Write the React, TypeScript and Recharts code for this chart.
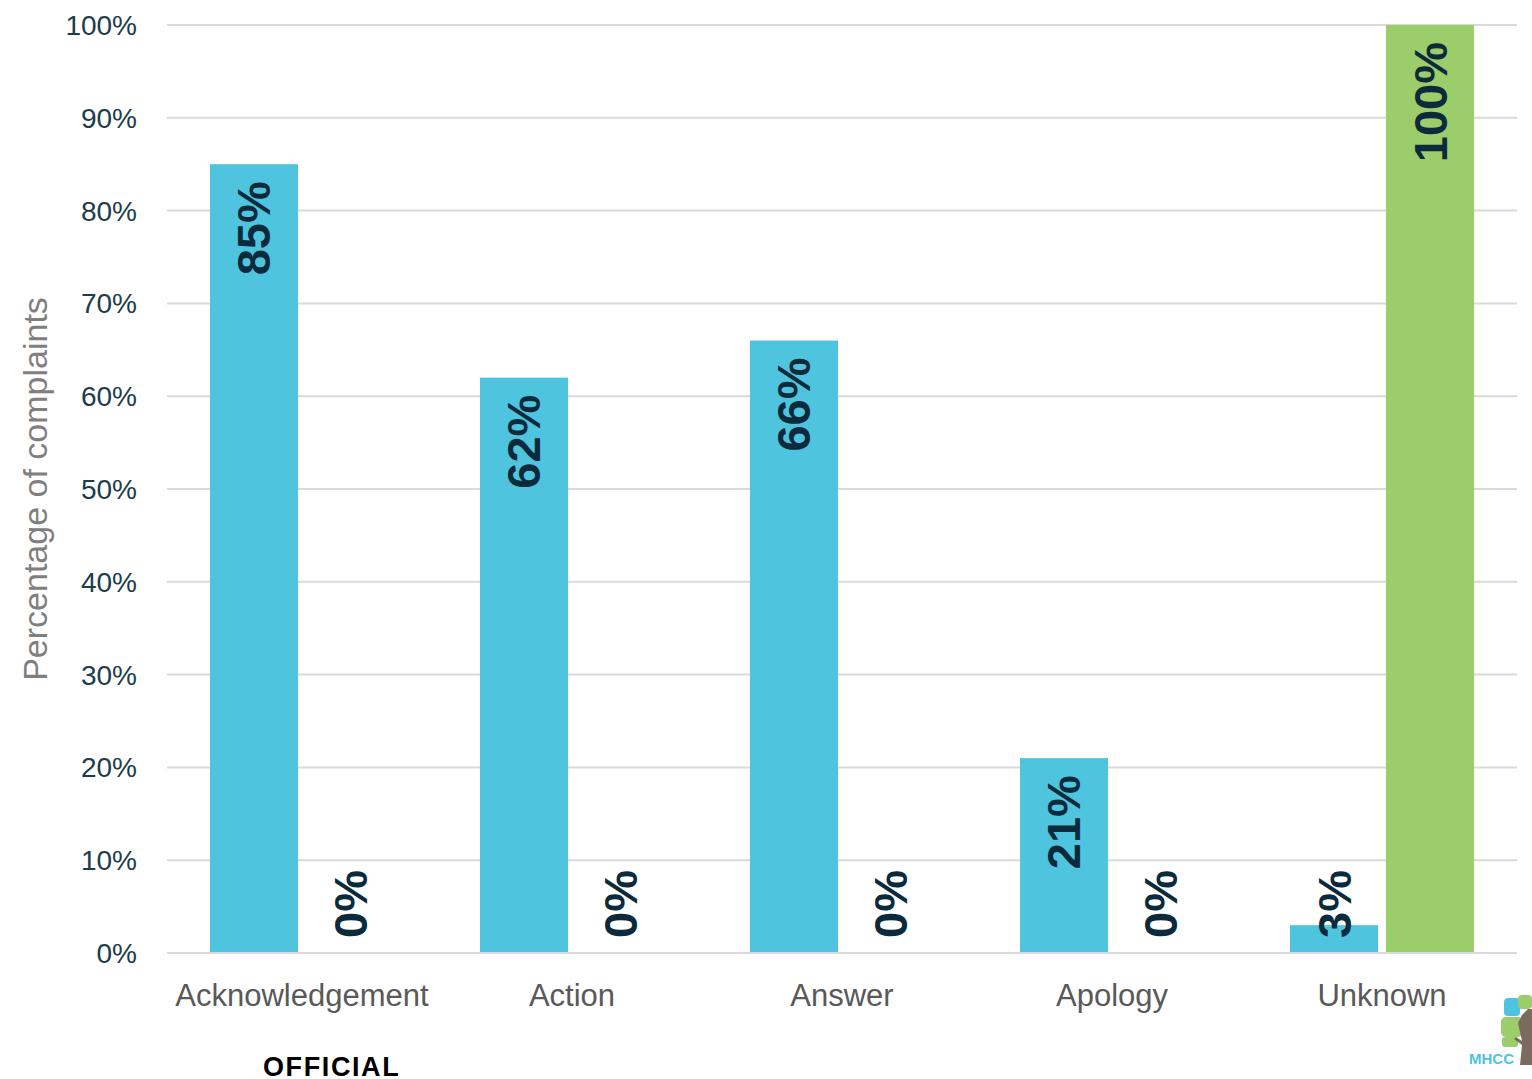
import React from "react";
import { BarChart, Bar, XAxis, YAxis, CartesianGrid, LabelList } from "recharts";

const categories = ["Acknowledgement", "Action", "Answer", "Apology", "Unknown"];
const knownValues = [85, 62, 66, 21, 3];
const unknownValues = [0, 0, 0, 0, 100];
const yTicks = [0, 10, 20, 30, 40, 50, 60, 70, 80, 90, 100];

const data = categories.map((name, i) => ({
  name,
  known: knownValues[i],
  unknown: unknownValues[i],
}));

const FONT = "'Liberation Sans', Arial, sans-serif";
const BASE_Y = 953;

// rotated label: hangs from the top of the bar, or sits on the baseline when the bar is short
const barLabel = (props: any) => {
  const { x, y, width, height, value } = props;
  const cx = x + width / 2;
  const short = height < 110;
  const ay = short ? BASE_Y - 15 : y + 17;
  return (
    <text
      x={cx}
      y={ay}
      transform={`rotate(-90 ${cx} ${ay})`}
      textAnchor={short ? "start" : "end"}
      dominantBaseline="central"
      fill="#0b2b3c"
      fontSize={47}
      fontWeight="bold"
      fontFamily={FONT}
    >
      {`${value}%`}
    </text>
  );
};

// zero bars keep a 1px slot so their labels are drawn, but the rect itself is hidden
const barShape = (key: string) => (props: any) => {
  const { x, y, width, height, fill, payload } = props;
  if (!payload || !payload[key]) return <g />;
  return <rect x={x} y={y} width={width} height={height} fill={fill} />;
};

const yLabel = () => (
  <text
    x={35}
    y={489}
    transform="rotate(-90 35 489)"
    textAnchor="middle"
    dominantBaseline="central"
    fill="#7f7f7f"
    fontSize={34}
    fontFamily={FONT}
  >
    Percentage of complaints
  </text>
);

function Logo() {
  return (
    <svg width={70} height={80} style={{ position: "absolute", left: 1466, top: 995 }}>
      <rect x={38} y={3} width={16} height={18} rx={4} fill="#4fc4de" />
      <rect x={52} y={0} width={14} height={14} rx={4} fill="#9bcd6a" />
      <rect x={35} y={22} width={22} height={20} rx={5} fill="#9bcd6a" />
      <rect x={36} y={42} width={16} height={10} rx={3} fill="#9bcd6a" />
      <path d="M52 28 L56 20 L62 14 L66 14 L66 70 L54 70 L56 50 L48 44 L50 42 L56 46 Z" fill="#7a6a5f" />
      <text x={3} y={69} fill="#4fc4de" fontSize={15} fontWeight="bold" fontFamily={FONT}>
        MHCC
      </text>
    </svg>
  );
}

export default function App() {
  return (
    <div style={{ position: "absolute", left: 0, top: 0, width: 1532, height: 1079, background: "#fff" }}>
      <BarChart
        width={1532}
        height={1079}
        data={data}
        margin={{ top: 25, right: 15, bottom: 66, left: 37 }}
        barCategoryGap={43}
        barGap={8}
      >
        <CartesianGrid vertical={false} stroke="#d9d9d9" strokeWidth={2} />
        <XAxis
          dataKey="name"
          height={60}
          axisLine={{ stroke: "#d9d9d9", strokeWidth: 2 }}
          tickLine={false}
          tickSize={0}
          tickMargin={31}
          tick={{ fill: "#595959", fontSize: 31, fontFamily: FONT }}
        />
        <YAxis
          width={130}
          domain={[0, 100]}
          ticks={yTicks}
          interval={0}
          tickFormatter={(v) => `${v}%`}
          axisLine={false}
          tickLine={false}
          tickSize={0}
          tickMargin={30}
          tick={{ fill: "#1d3c4c", fontSize: 28, fontFamily: FONT }}
          label={yLabel}
        />
        <Bar dataKey="known" fill="#4fc4de" minPointSize={1} shape={barShape("known")} isAnimationActive={false}>
          <LabelList dataKey="known" content={barLabel} />
        </Bar>
        <Bar dataKey="unknown" fill="#9ccd6b" minPointSize={1} shape={barShape("unknown")} isAnimationActive={false}>
          <LabelList dataKey="unknown" content={barLabel} />
        </Bar>
      </BarChart>
      <div
        style={{
          position: "absolute",
          left: 263,
          top: 1052,
          fontFamily: FONT,
          fontWeight: 900,
          fontSize: 27,
          letterSpacing: 1.6,
          color: "#000",
        }}
      >
        OFFICIAL
      </div>
      <Logo />
    </div>
  );
}
